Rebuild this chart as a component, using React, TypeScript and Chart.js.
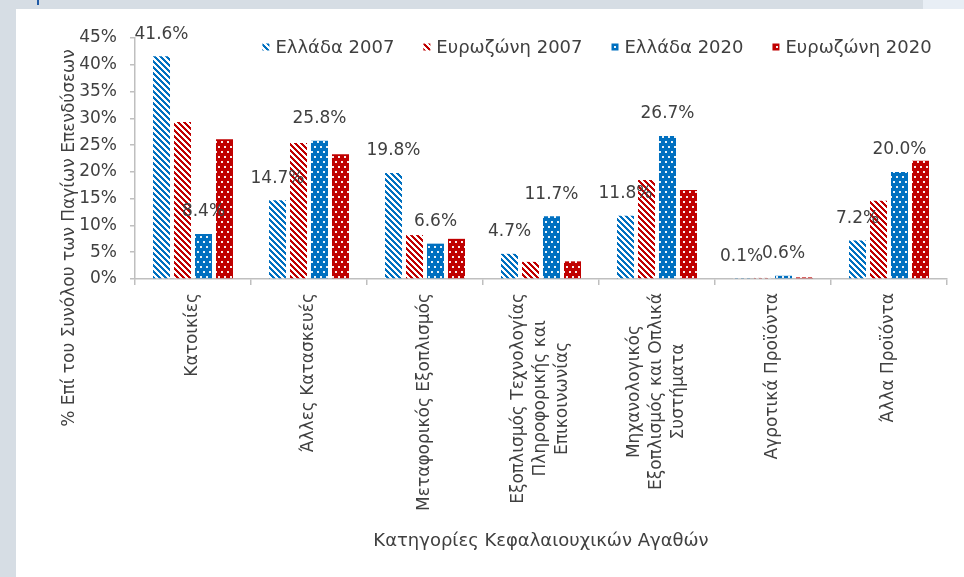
import React, { useEffect, useRef } from 'react';
import { Chart, registerables } from 'chart.js';

Chart.register(...registerables);

const categoryLines: string[][] = [
  ['Κατοικίες'],
  ['Άλλες Κατασκευές'],
  ['Μεταφορικός Εξοπλισμός'],
  ['Εξοπλισμός Τεχνολογίας', 'Πληροφορικής και', 'Επικοινωνίας'],
  ['Μηχανολογικός', 'Εξοπλισμός και Οπλικά', 'Συστήματα'],
  ['Αγροτικά Προϊόντα'],
  ['Άλλα Προϊόντα'],
];
const seriesNames = ['Ελλάδα 2007', 'Ευρωζώνη 2007', 'Ελλάδα 2020', 'Ευρωζώνη 2020'];
const greece2007 = [41.6, 14.7, 19.8, 4.7, 11.8, 0.1, 7.2];
const eurozone2007 = [29.3, 25.4, 8.2, 3.2, 18.5, 0.2, 14.6];
const greece2020 = [8.4, 25.8, 6.6, 11.7, 26.7, 0.6, 20.0];
const eurozone2020 = [26.1, 23.3, 7.5, 3.3, 16.6, 0.3, 22.1];
const yMin = 0;
const yMax = 45;
const yStep = 5;
const xTitle = 'Κατηγορίες Κεφαλαιουχικών Αγαθών';
const yTitle = '% Επί του Συνόλου των Παγίων Επενδύσεων';
const labelledSeries = [0, 2];

const BLUE = '#0070c0';
const RED = '#c00000';
const TEXT = '#404040';
const AXIS = '#bfbfbf';
const FONT_FAMILY = '"DejaVu Sans", sans-serif';
const FS = 17;
const FS_BIG = 18;

function stripePattern(color: string): CanvasPattern | string {
  const n = 6;
  const c = document.createElement('canvas');
  c.width = n;
  c.height = n;
  const g = c.getContext('2d');
  if (!g) return color;
  g.fillStyle = '#ffffff';
  g.fillRect(0, 0, n, n);
  g.fillStyle = color;
  for (let y = 0; y < n; y++) {
    for (let x = 0; x < n; x++) {
      if ((((x - y) % n) + n) % n < 3) g.fillRect(x, y, 1, 1);
    }
  }
  return g.createPattern(c, 'repeat') || color;
}

function dotPattern(color: string): CanvasPattern | string {
  const w = 6;
  const h = 10;
  const c = document.createElement('canvas');
  c.width = w;
  c.height = h;
  const g = c.getContext('2d');
  if (!g) return color;
  g.fillStyle = color;
  g.fillRect(0, 0, w, h);
  g.fillStyle = 'rgba(255,255,255,0.92)';
  g.fillRect(1, 2, 2, 2);
  g.fillRect(4, 7, 2, 2);
  return g.createPattern(c, 'repeat') || color;
}

export default function App() {
  const ref = useRef<HTMLCanvasElement | null>(null);

  useEffect(() => {
    const canvas = ref.current;
    if (!canvas) return;

    const fills = [stripePattern(BLUE), stripePattern(RED), dotPattern(BLUE), dotPattern(RED)];
    const values = [greece2007, eurozone2007, greece2020, eurozone2020];
    const font = { family: FONT_FAMILY, size: FS };

    const valueLabels = {
      id: 'valueLabels',
      afterDatasetsDraw(chart: any) {
        const ctx = chart.ctx;
        ctx.save();
        ctx.font = `${FS}px ${FONT_FAMILY}`;
        ctx.fillStyle = TEXT;
        ctx.textAlign = 'center';
        ctx.textBaseline = 'middle';
        labelledSeries.forEach((di) => {
          const meta = chart.getDatasetMeta(di);
          meta.data.forEach((bar: any, i: number) => {
            const v = values[di][i];
            ctx.fillText(v.toFixed(1) + '%', bar.x, bar.y - 22);
          });
        });
        ctx.restore();
      },
    };

    const categoryLabels = {
      id: 'categoryLabels',
      afterDraw(chart: any) {
        const ctx = chart.ctx;
        const xs = chart.scales.x;
        const lh = 22;
        ctx.save();
        ctx.font = `${FS}px ${FONT_FAMILY}`;
        ctx.fillStyle = TEXT;
        ctx.textBaseline = 'middle';
        ctx.textAlign = 'center';
        categoryLines.forEach((lines, i) => {
          const x = xs.getPixelForValue(i);
          const maxW = Math.max(...lines.map((l) => ctx.measureText(l).width));
          ctx.save();
          ctx.translate(x, xs.top + 14);
          ctx.rotate(-Math.PI / 2);
          lines.forEach((line, k) => {
            ctx.fillText(line, -maxW / 2, (k - (lines.length - 1) / 2) * lh);
          });
          ctx.restore();
        });
        ctx.restore();
      },
    };

    const yAxisTitle = {
      id: 'yAxisTitle',
      afterDraw(chart: any) {
        const ctx = chart.ctx;
        ctx.save();
        ctx.font = `${FS}px ${FONT_FAMILY}`;
        ctx.fillStyle = TEXT;
        ctx.textAlign = 'center';
        ctx.textBaseline = 'middle';
        ctx.translate(54, 229);
        ctx.rotate(-Math.PI / 2);
        ctx.fillText(yTitle, 0, 0);
        ctx.restore();
      },
    };

    const legendPlugin = {
      id: 'patternLegend',
      afterDraw(chart: any) {
        const ctx = chart.ctx;
        const area = chart.chartArea;
        ctx.save();
        ctx.font = `${FS_BIG}px ${FONT_FAMILY}`;
        ctx.textBaseline = 'middle';
        ctx.textAlign = 'left';
        const box = 7;
        const gap = 6;
        const itemGap = 29;
        const widths = seriesNames.map((n) => box + gap + ctx.measureText(n).width);
        const total = widths.reduce((a, b) => a + b, 0) + itemGap * (seriesNames.length - 1);
        let x = area.left + 462 - total / 2;
        const y = area.top + 9;
        seriesNames.forEach((n, i) => {
          ctx.fillStyle = fills[i];
          ctx.fillRect(x, y - box / 2, box, box);
          ctx.fillStyle = TEXT;
          ctx.fillText(n, x + box + gap, y + 1);
          x += widths[i] + itemGap;
        });
        ctx.restore();
      },
    };

    const yTickValues: number[] = [];
    for (let v = yMin; v <= yMax; v += yStep) yTickValues.push(v);

    const chart = new Chart(canvas, {
      type: 'bar',
      data: {
        labels: categoryLines.map((l) => l.join(' ')),
        datasets: seriesNames.map((name, i) => ({
          label: name,
          data: values[i],
          backgroundColor: fills[i] as any,
          borderWidth: 0,
          categoryPercentage: 0.724,
          barPercentage: 0.81,
        })),
      },
      options: {
        responsive: false,
        animation: false,
        events: [],
        layout: { padding: { top: 29, right: 17, left: 0, bottom: 0 } },
        plugins: {
          legend: { display: false },
          tooltip: { enabled: false },
          title: { display: false },
        },
        scales: {
          x: {
            grid: {
              offset: true,
              drawOnChartArea: false,
              drawTicks: true,
              tickLength: 6,
              color: AXIS,
              lineWidth: 1.5,
            },
            border: { display: true, color: AXIS, width: 1.5 },
            ticks: { display: false },
            title: {
              display: true,
              text: xTitle,
              color: TEXT,
              font: { family: FONT_FAMILY, size: FS_BIG },
              padding: { top: 0, bottom: 25 },
            },
            afterFit: (s: any) => {
              s.height = 298;
            },
          },
          y: {
            min: yMin,
            max: yMax,
            afterBuildTicks: (s: any) => {
              s.ticks = yTickValues.map((v) => ({ value: v }));
            },
            ticks: {
              color: TEXT,
              font,
              padding: 13,
              callback: (v: any) => `${v}%`,
            },
            grid: {
              drawOnChartArea: false,
              drawTicks: true,
              tickLength: 5,
              color: AXIS,
              lineWidth: 1.5,
            },
            border: { display: true, color: AXIS, width: 1.5 },
            afterFit: (s: any) => {
              s.width = 119;
            },
          },
        },
      } as any,
      plugins: [valueLabels, categoryLabels, yAxisTitle, legendPlugin],
    });

    return () => chart.destroy();
  }, []);

  return (
    <div style={{ position: 'fixed', left: 0, top: 0, width: 964, height: 577, background: '#d6dde4', overflow: 'hidden' }}>
      <div style={{ position: 'absolute', left: 923, top: 0, width: 41, height: 9, background: '#e8eef5' }} />
      <div style={{ position: 'absolute', left: 37, top: 0, width: 2, height: 5, background: '#1f5aa6' }} />
      <div style={{ position: 'absolute', left: 16, top: 9, width: 948, height: 568, background: '#ffffff' }}>
        <canvas ref={ref} width={948} height={568} style={{ display: 'block', width: 948, height: 568 }} />
      </div>
    </div>
  );
}
